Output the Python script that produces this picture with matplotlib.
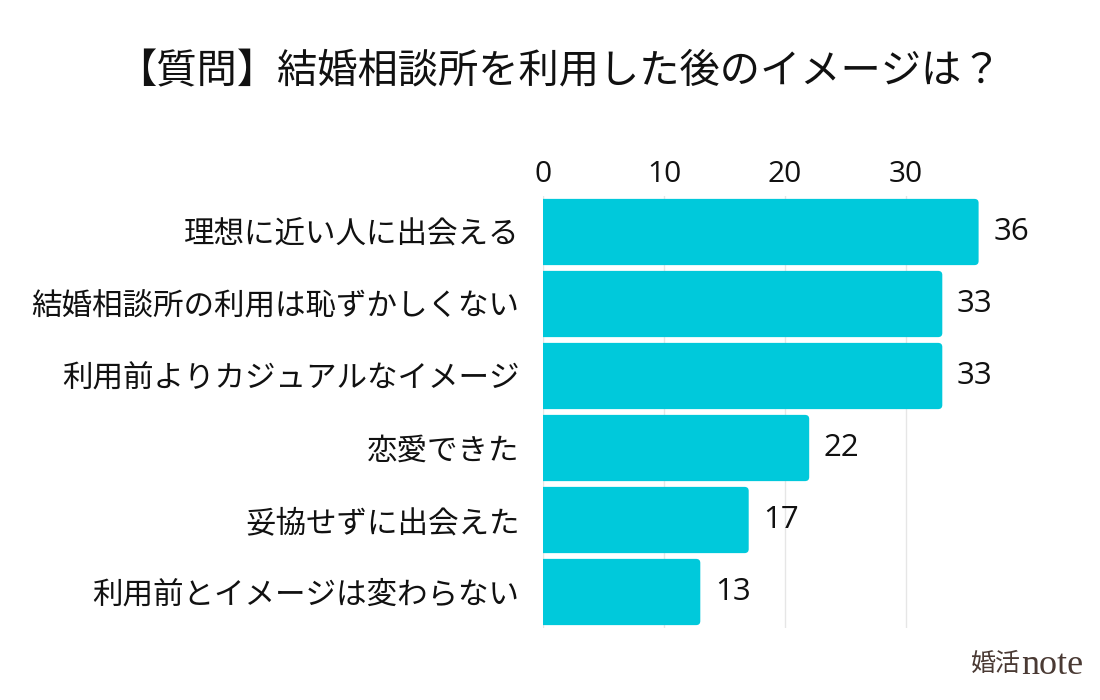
import matplotlib
matplotlib.use("Agg")
import matplotlib.pyplot as plt
from matplotlib.patches import FancyBboxPatch

plt.rcParams['font.family'] = ['Noto Sans CJK JP', 'DejaVu Sans']

title = '【質問】結婚相談所を利用した後のイメージは？'
categories = ['理想に近い人に出会える', '結婚相談所の利用は恥ずかしくない',
              '利用前よりカジュアルなイメージ', '恋愛できた',
              '妥協せずに出会えた', '利用前とイメージは変わらない']
values = [36, 33, 33, 22, 17, 13]
xticks = [0, 10, 20, 30]

bar_color = '#00C9DB'
num_font = ['Open Sans', 'DejaVu Sans']

fig = plt.figure(figsize=(11, 7), dpi=100)
ax = fig.add_axes([543 / 1100, 1 - 628 / 700, 484 / 1100, 432 / 700])

ypos = list(range(len(categories)))
bars = ax.barh(ypos, values, height=0.92, color=bar_color)

# swap plain bars for ones with slightly rounded right corners
for b in bars:
    x0, y0 = b.get_x(), b.get_y()
    w, h = b.get_width(), b.get_height()
    b.set_visible(False)
    p = FancyBboxPatch((x0 - 1, y0), w + 1, h,
                       boxstyle='round,pad=0,rounding_size=0.35',
                       mutation_aspect=0.16, facecolor=bar_color,
                       edgecolor='none', zorder=2)
    ax.add_patch(p)
    p.set_clip_path(ax.patch)

for y, v in zip(ypos, values):
    ax.text(v + 1.2, y, str(v), va='center', ha='left', fontsize=22.5,
            color='#111111', family=num_font)

ax.set_xlim(0, 40)
ax.set_ylim(len(categories) - 0.5, -0.5)
ax.set_xticks(xticks)
ax.set_xticklabels([str(t) for t in xticks], fontsize=21.5, color='#111111',
                   family=num_font)
ax.xaxis.tick_top()
ax.tick_params(axis='x', length=0, pad=5)
ax.set_yticks(ypos)
ax.set_yticklabels(categories, fontsize=22, color='#111111')
ax.tick_params(axis='y', length=0, pad=17)
ax.grid(axis='x', color='#e6e6e6', linewidth=1)
ax.set_axisbelow(True)
for s in ax.spines.values():
    s.set_visible(False)

fig.text(559 / 1100, 1 - 72 / 700, title, ha='center', va='center', fontsize=29,
         color='#111111')
fig.text(1021 / 1100, 1 - 664 / 700, '婚活', ha='right', va='center',
         fontsize=18, color='#4a3a34')
fig.text(1021 / 1100, 1 - 666 / 700, 'note', ha='left', va='center',
         fontsize=26, color='#4a3a34', family='Liberation Serif')

fig.savefig('out.png', dpi=100)
